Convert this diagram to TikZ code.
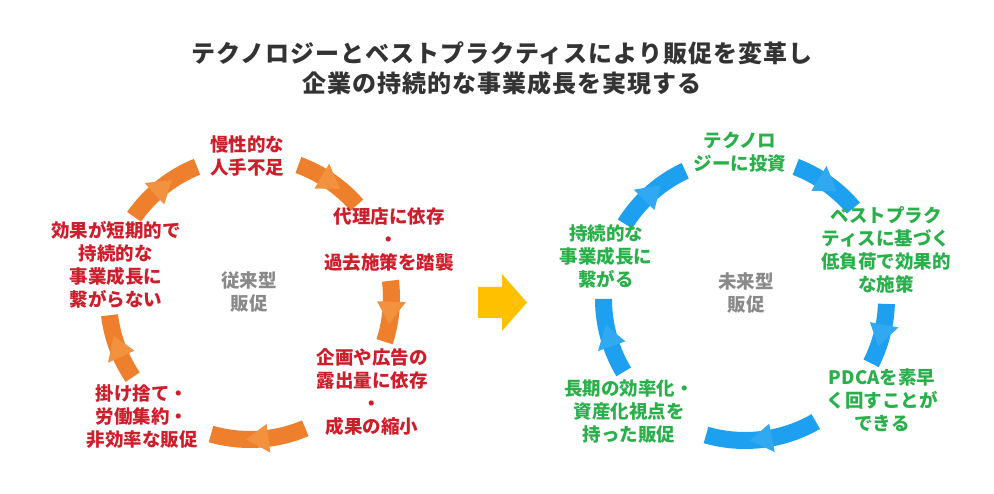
\documentclass[tikz,border=0pt]{standalone}
\usepackage{fontspec}
\setmainfont{Noto Sans CJK JP}
\definecolor{ttl}{HTML}{333333}
\definecolor{redtxt}{HTML}{CC1E2B}
\definecolor{grntxt}{HTML}{2AB04B}
\definecolor{graytxt}{HTML}{8A8A8A}
\definecolor{orband}{HTML}{EE7F2D}
\definecolor{orhead}{HTML}{F2923F}
\definecolor{blband}{HTML}{1EA0F0}
\definecolor{blhead}{HTML}{30A8F2}
\definecolor{gold}{HTML}{FFC000}
% #1 cx, #2 cy, #3 start angle, #4 end angle, #5 band colour, #6 head colour
\newcommand\cycarrow[6]{%
  \fill[#5] plot[domain=#3:#4,samples=30] ({#1+150*cos(\x)},{#2+150*sin(\x)})
     -- plot[domain=#4:#3,samples=30] ({#1+133*cos(\x)},{#2+133*sin(\x)}) -- cycle;
  \pgfmathsetmacro\midang{(#3+#4)/2}%
  \fill[#6] ({#1+127*cos(\midang-4)},{#2+127*sin(\midang-4)})
     -- ({#1+141.5*cos(\midang+5)},{#2+141.5*sin(\midang+5)})
     -- ({#1+156*cos(\midang-4)},{#2+156*sin(\midang-4)}) -- cycle;
}
\begin{document}
\begin{tikzpicture}[x=1pt,y=-1pt,
  txt/.style={font=\bfseries\fontsize{18.5}{23}\selectfont, align=center, inner sep=0pt},
  redt/.style={txt, text=redtxt},
  grnt/.style={txt, text=grntxt},
  ctrt/.style={txt, text=graytxt},
  ttlt/.style={font=\bfseries\fontsize{24}{30}\selectfont\addfontfeature{LetterSpace=4}, align=center, inner sep=0pt, text=ttl}]
\useasboundingbox (0,0) rectangle (994,494);
\fill[white] (0,0) rectangle (994,494);

% title
\node[ttlt] (title) at (502,68) {テクノロジーとベストプラクティスにより販促を変革し\\企業の持続的な事業成長を実現する};

% left cycle
\cycarrow{250}{298}{-145}{-112}{orband}{orhead}
\cycarrow{250}{298}{-70}{-41}{orband}{orhead}
\cycarrow{250}{298}{-7}{18}{orband}{orhead}
\cycarrow{250}{298}{67}{106}{orband}{orhead}
\cycarrow{250}{298}{146}{173}{orband}{orhead}

\node[redt] (l1) at (247,156) {慢性的な\\人手不足};
\node[redt] (l2) at (389,240) {代理店に依存\\・\\過去施策を踏襲};
\node[redt] (l3) at (372,392) {企画や広告の\\露出量に依存\\・\\成果の縮小};
\node[redt] (l4) at (142,417) {掛け捨て・\\労働集約・\\非効率な販促};
\node[redt] (l5) at (116,264.5) {効果が短期的で\\持続的な\\事業成長に\\繋がらない};
\node[ctrt] (lc) at (249,292.5) {従来型\\販促};

% yellow arrow
\fill[gold] (478,287) -- (502,287) -- (502,274) -- (527,302.5) -- (502,331) -- (502,318) -- (478,318) -- cycle;

% right cycle
\cycarrow{745}{299}{-148}{-115}{blband}{blhead}
\cycarrow{745}{299}{-69}{-40}{blband}{blhead}
\cycarrow{745}{299}{2}{27}{blband}{blhead}
\cycarrow{745}{299}{60}{106}{blband}{blhead}
\cycarrow{745}{299}{149}{180}{blband}{blhead}

\node[grnt] (r1) at (740,152) {テクノロ\\ジーに投資};
\node[grnt] (r2) at (886,250) {ベストプラク\\ティスに基づく\\低負荷で効果的\\な施策};
\node[grnt] (r3) at (882,400) {PDCAを素早\\く回すことが\\できる};
\node[grnt] (r4) at (629,412) {長期の効率化・\\資産化視点を\\持った販促};
\node[grnt] (r5) at (606,256) {持続的な\\事業成長に\\繋がる};
\node[ctrt] (rc) at (746,293.5) {未来型\\販促};
\end{tikzpicture}
\end{document}
